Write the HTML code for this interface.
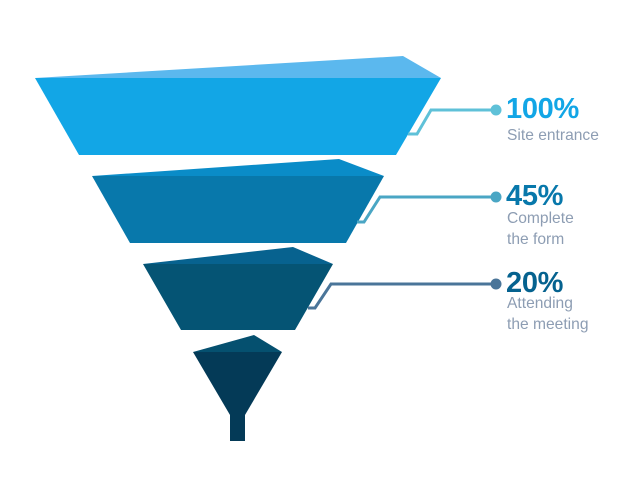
<!DOCTYPE html>
<html><head><meta charset="utf-8"><style>
html,body{margin:0;padding:0;background:#fff;width:640px;height:498px;overflow:hidden}
svg{display:block}
.p{font-family:"Liberation Sans",sans-serif;font-weight:bold;font-size:29px;letter-spacing:-0.3px}
.s{font-family:"Liberation Sans",sans-serif;font-size:15.6px;fill:#8d9db3}
</style></head><body>
<svg width="640" height="498" viewBox="0 0 640 498">
<polygon points="35,78 403,56 441,78" fill="#5bb8ee"/>
<polygon points="35,78 441,78 396,155 79,155" fill="#12a6e6"/>
<polygon points="92,176 339,159 384,176" fill="#0a8cc8"/>
<polygon points="92,176 384,176 346,243 130,243" fill="#0878ab"/>
<polygon points="143,264 293,247 333,264" fill="#07628f"/>
<polygon points="143,264 333,264 295,330 181,330" fill="#055474"/>
<polygon points="193,352 254,335 282,352" fill="#05506f"/>
<polygon points="193,352 282,352 245,415 230,415" fill="#043a57"/>
<rect x="230" y="413" width="15" height="28" fill="#043a57"/>
<polyline points="408,134 417,134 431,110 495,110" fill="none" stroke="#5fc1d8" stroke-width="3"/>
<circle cx="496" cy="110" r="5.5" fill="#5fc1d8"/>
<polyline points="357,222 364,222 380,197 495,197" fill="none" stroke="#4aa6c4" stroke-width="3"/>
<circle cx="496" cy="197" r="5.5" fill="#4aa6c4"/>
<polyline points="308,308 315,308 331,284 495,284" fill="none" stroke="#4a7599" stroke-width="3"/>
<circle cx="496" cy="284" r="5.5" fill="#4a7599"/>
<text x="506" y="118" class="p" fill="#12a6e6">100%</text>
<text x="507" y="140" class="s">Site entrance</text>
<text x="506" y="205" class="p" fill="#0878ab">45%</text>
<text x="507" y="223" class="s">Complete</text>
<text x="507" y="244" class="s">the form</text>
<text x="506" y="292" class="p" fill="#05628f">20%</text>
<text x="507" y="308" class="s">Attending</text>
<text x="507" y="329" class="s">the meeting</text>
</svg>
</body></html>
